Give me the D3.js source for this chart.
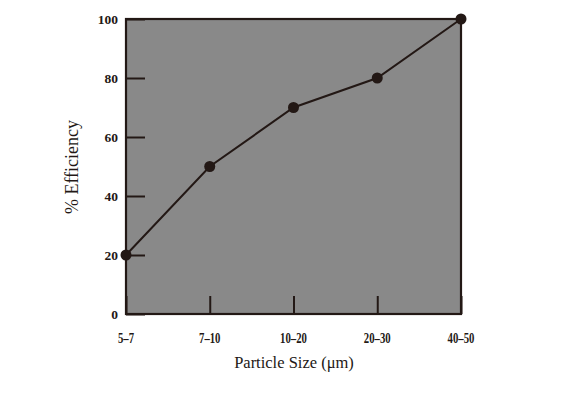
<!DOCTYPE html>
<html><head><meta charset="utf-8">
<script src="https://cdn.jsdelivr.net/npm/d3@7"></script>
<style>body{margin:0;background:#fff}svg{display:block}</style>
</head><body>
<script>
const categories = ["5–7", "7–10", "10–20", "20–30", "40–50"];
const efficiency = [20, 50, 70, 80, 100];
const yTicks = [0, 20, 40, 60, 80, 100];

const W = 578, H = 399;
const L = 126, R = 461, T = 19, B = 314;
const ink = "#231815";
const svg = d3.select("body").append("svg").attr("width", W).attr("height", H);

const x = d3.scalePoint().domain(categories).range([L, R]);
const y = d3.scaleLinear().domain([0, 100]).range([B, T]);

svg.append("rect").attr("x", L).attr("y", T).attr("width", R - L).attr("height", B - T)
  .attr("fill", "#898989").attr("stroke", ink).attr("stroke-width", 2.2);

// y ticks (inward)
const ya = svg.append("g").attr("transform", `translate(${L},0)`)
  .call(d3.axisRight(y).tickValues(yTicks).tickSize(19).tickFormat(""));
ya.select(".domain").remove();
ya.selectAll("line").attr("stroke", ink).attr("stroke-width", 2);
svg.append("g").selectAll("text").data(yTicks).join("text")
  .attr("x", 118).attr("y", d => y(d)).attr("dy", "0.35em").attr("text-anchor", "end")
  .attr("font-family", "Liberation Serif, serif").attr("font-weight", "bold").attr("font-size", 13.5)
  .attr("fill", ink).text(d => d);

// x ticks (inward)
const xa = svg.append("g").attr("transform", `translate(0,${B})`)
  .call(d3.axisTop(x).tickSize(18).tickFormat(""));
xa.select(".domain").remove();
xa.selectAll("line").attr("stroke", ink).attr("stroke-width", 2);
svg.append("g").selectAll("text").data(categories).join("text")
  .attr("x", d => x(d)).attr("y", 343).attr("text-anchor", "middle")
  .attr("font-family", "Liberation Serif, serif").attr("font-weight", "bold").attr("font-size", 14.5)
  .attr("transform", d => `translate(${x(d)},0) scale(0.74,1) translate(${-x(d)},0)`)
  .attr("fill", ink).text(d => d);

// titles
svg.append("text").attr("x", 294).attr("y", 368).attr("text-anchor", "middle")
  .attr("font-family", "Liberation Serif, serif").attr("font-size", 16.5).attr("fill", ink)
  .text("Particle Size (μm)");
svg.append("text").attr("transform", "translate(78,167) rotate(-90)").attr("text-anchor", "middle")
  .attr("font-family", "Liberation Serif, serif").attr("font-size", 18).attr("fill", ink)
  .text("% Efficiency");

// line + points
const data = categories.map((c, i) => ({c, v: efficiency[i]}));
svg.append("path").datum(data)
  .attr("d", d3.line().x(d => x(d.c)).y(d => y(d.v)))
  .attr("fill", "none").attr("stroke", ink).attr("stroke-width", 2);
svg.append("g").selectAll("circle").data(data).join("circle")
  .attr("cx", d => x(d.c)).attr("cy", d => y(d.v)).attr("r", 5.5).attr("fill", ink);
</script>
</body></html>
